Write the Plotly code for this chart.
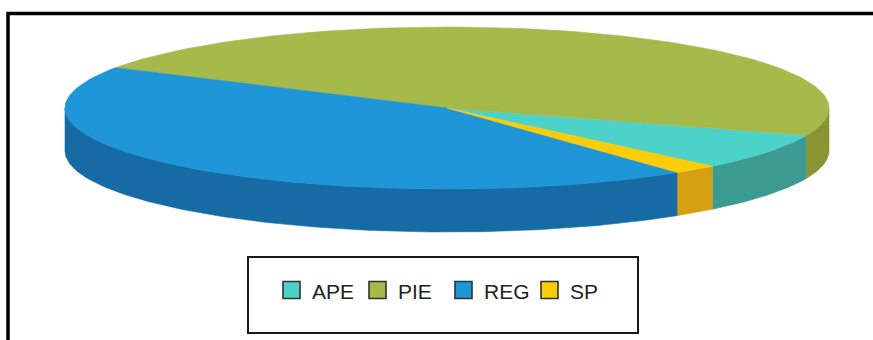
import numpy as np
import plotly.graph_objects as go

# Share of each category
categories = ["APE", "PIE", "REG", "SP"]
values = [7.3, 47.2, 43.6, 1.9]

# Top-face and side-wall colours per category
top_colors = ["#4dd2c9", "#a6b94b", "#1e96d8", "#fbcd06"]
side_colors = ["#3c9b91", "#879632", "#166ba5", "#d6a014"]

W, H = 873, 340
# Ellipse geometry of the tilted disc (pixel space, y grows downward)
CX, CY, RX, RY, DEPTH = 447, 108, 382, 81, 43
START = 46.0  # first slice edge, degrees; slices run counter-clockwise


def arc(t0, t1, dy=0.0, n=120):
    t = np.radians(np.linspace(t0, t1, n))
    return CX + RX * np.cos(t), CY + RY * np.sin(t) + dy


total = float(sum(values))
spans = []
edge = START
for v in values:
    s = 360.0 * v / total
    spans.append((edge - s, edge))
    edge -= s

fig = go.Figure()

# Visible front walls (parametric angle between 0 and 180 degrees)
for (lo, hi), col in zip(spans, side_colors):
    for k in (-1, 0, 1):
        a, b = max(lo, 360 * k), min(hi, 360 * k + 180)
        if b <= a:
            continue
        xt, yt = arc(a, b)
        xb, yb = arc(b, a, DEPTH)
        fig.add_trace(go.Scatter(
            x=np.concatenate([xt, xb, xt[:1]]),
            y=np.concatenate([yt, yb, yt[:1]]),
            mode="lines", fill="toself", fillcolor=col,
            line=dict(color=col, width=0.6),
            hoverinfo="skip", showlegend=False))

# Top faces
for (lo, hi), col, name in zip(spans, top_colors, categories):
    xa, ya = arc(lo, hi)
    fig.add_trace(go.Scatter(
        x=np.concatenate([[CX], xa, [CX]]),
        y=np.concatenate([[CY], ya, [CY]]),
        mode="lines", fill="toself", fillcolor=col,
        line=dict(color=col, width=0.6),
        name=name, hoverinfo="skip", showlegend=False))

shapes = [
    # outer frame
    dict(type="rect", x0=8, y0=13.5, x1=W + 10, y1=H + 10,
         line=dict(color="#000000", width=3.5), layer="above"),
    # legend box
    dict(type="rect", x0=248, y0=257, x1=638, y1=333,
         line=dict(color="#1a1a1a", width=2)),
]
annotations = []
LEG_X0, LEG_STEP, LEG_Y, SQ = 283, 86, 290, 17
for i, (name, col) in enumerate(zip(categories, top_colors)):
    x0 = LEG_X0 + i * LEG_STEP
    shapes.append(dict(type="rect", x0=x0, x1=x0 + SQ,
                       y0=LEG_Y - SQ / 2, y1=LEG_Y + SQ / 2,
                       fillcolor=col, line=dict(color="#2b3530", width=1.6)))
    annotations.append(dict(x=x0 + SQ + 10, y=LEG_Y + 1, text=name,
                            xanchor="left", yanchor="middle", showarrow=False,
                            font=dict(family="Liberation Sans, Arial", size=21,
                                      color="#222222")))

fig.update_layout(
    width=W, height=H,
    margin=dict(l=0, r=0, t=0, b=0),
    paper_bgcolor="white", plot_bgcolor="white",
    xaxis=dict(range=[0, W], visible=False, fixedrange=True),
    yaxis=dict(range=[H, 0], visible=False, fixedrange=True),
    shapes=shapes, annotations=annotations,
    showlegend=False,
)

fig.write_html("out.html")
